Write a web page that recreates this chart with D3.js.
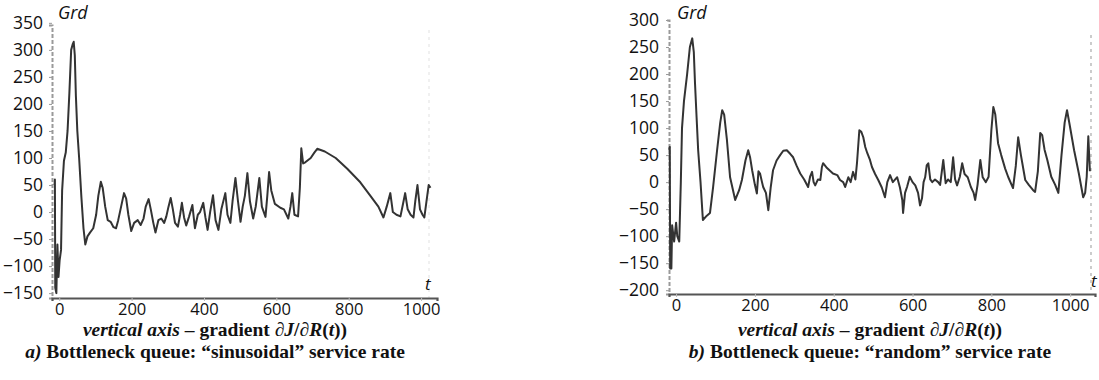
<!DOCTYPE html>
<html>
<head>
<meta charset="utf-8">
<script src="https://cdn.jsdelivr.net/npm/d3@7"></script>
<style>
  html, body { margin: 0; padding: 0; background: #fff; }
  svg { display: block; }
  .ylbl { font-family: "Open Sans", sans-serif; font-size: 17.5px; fill: #111; }
  .xlbl { font-family: "Open Sans", sans-serif; font-size: 16.5px; fill: #111; }
  .cap { font-family: "Liberation Serif", "Times New Roman", serif; font-size: 19.5px; font-weight: bold; fill: #111; }
</style>
</head>
<body>
<svg id="chart" width="1099" height="380"></svg>
<script>
// ---------- data: panel a) sinusoidal service rate ----------
const tA = [-13,-12,-11,-8,-5,-2,1,5,8,13,18,23,28,33,37,40,43,46,50,55,61,67,
  72,78,85,94,102,108,115,120,127,134,142,150,157,
  163,171,179,185,191,199,207,217,225,233,239,247,253,
  260,266,274,282,290,296,302,308,314,320,328,334,
  339,345,351,359,368,375,383,389,398,404,410,417,
  425,432,440,448,459,465,473,479,487,494,
  501,507,513,520,527,536,543,553,560,570,575,
  580,586,596,611,621,633,639,644,
  650,660,665,669,674,680,695,705,713,
  734,764,796,832,860,
  882,896,905,915,922,932,943,950,
  956,963,971,979,984,990,997,1004,1009,1015,1021,1026];
const gA = [50,60,-140,-150,-60,-120,-90,-70,40,95,110,150,220,300,310,315,290,215,150,100,
  30,-30,-60,-45,-38,-30,-5,30,56,45,10,-15,-18,-28,-30,-15,10,35,25,-5,
  -35,-20,-15,-24,-12,10,24,5,-20,-38,-15,-12,-20,-8,10,26,5,-20,-27,-5,
  17,-10,-25,-8,13,-30,-5,0,17,-10,-33,0,31,-15,-33,5,35,-5,-20,20,
  63,20,-18,10,30,72,20,-12,10,63,10,-9,30,74,40,15,8,5,-12,10,
  35,-5,-8,45,118,90,92,100,110,117,112,100,80,55,30,10,-10,10,35,0,
  -5,-8,15,35,5,-5,-10,20,50,5,-5,-10,20,50,45];

// ---------- data: panel b) random service rate ----------
const tB = [-18,-16,-15,-12,-10,-5,0,3,8,12,15,20,28,35,41,45,48,52,56,62,68,78,86,94,104,112,117,122,129,137,150,160,167,176,183,188,193,200,205,209,213,218,221,228,234,240,246,255,264,272,281,290,297,306,315,325,335,340,345,349,353,360,366,370,373,383,398,409,416,424,429,437,443,449,455,459,465,470,475,480,485,492,497,505,513,522,530,536,543,550,556,561,568,574,576,581,586,593,600,607,614,619,624,628,632,636,640,645,650,657,665,670,678,684,690,697,703,708,713,720,726,732,740,748,755,759,765,772,778,786,793,800,805,810,817,825,835,843,855,862,868,875,886,895,906,911,918,924,929,935,942,952,962,970,978,986,992,998,1010,1022,1033,1038,1042,1046,1050];
const gB = [60,65,-160,-160,-80,-110,-75,-100,-110,0,100,150,200,250,266,240,183,120,59,0,-70,-62,-57,-9,59,110,133,125,78,9,-33,-15,4,40,59,45,22,-5,-21,20,16,0,-9,-20,-52,-10,22,40,50,58,59,52,46,30,16,5,-9,10,19,0,-6,5,4,28,35,26,16,13,4,0,-9,9,0,19,5,35,96,93,83,65,54,41,28,15,4,-10,-28,0,13,0,5,9,-10,-33,-57,-20,-9,10,0,-6,-20,-43,-30,0,9,31,35,5,0,5,0,-5,41,-2,5,0,46,5,-6,10,35,15,9,-9,-20,-33,-5,41,9,0,10,96,139,125,72,50,25,9,-11,30,83,50,4,-5,-15,-18,20,91,87,60,41,10,-5,-20,50,110,133,109,59,16,-28,-20,10,85,20];

// ---------- tick labels ----------
const xTicks = [0, 200, 400, 600, 800, 1000];
const yTicksA = [-150, -100, -50, 0, 50, 100, 150, 200, 250, 300, 350];
const yTicksB = [-200, -150, -100, -50, 0, 50, 100, 150, 200, 250, 300];

const svg = d3.select("#chart");

function panel(cfg) {
  const g = svg.append("g");
  const x = d3.scaleLinear().domain(cfg.xDom).range(cfg.xRange);
  const y = d3.scaleLinear().domain(cfg.yDom).range(cfg.yRange);
  const x0 = cfg.xRange[0];
  const yb = cfg.yRange[0];

  // faint dotted right frame
  g.append("line").attr("x1", cfg.frameX).attr("x2", cfg.frameX)
    .attr("y1", cfg.frameTop).attr("y2", yb)
    .attr("stroke", cfg.frameColor).attr("stroke-width", 1.2)
    .attr("stroke-dasharray", "3,4");

  // y axis
  const ya = d3.axisLeft(y).tickValues(cfg.yTicks).tickSize(3).tickPadding(5).tickFormat(d3.format("d"));
  const yg = g.append("g").attr("transform", `translate(${x0},0)`).call(ya);
  yg.select(".domain").attr("stroke", "#9a9a9a").attr("stroke-width", 2).attr("stroke-dasharray", "4,2");
  yg.selectAll(".tick line").attr("stroke", "#999");
  yg.selectAll(".tick text").attr("class", "ylbl").attr("fill", "#111").attr("dx", cfg.yLblDx);

  // x axis
  const xa = d3.axisBottom(x).tickValues(xTicks).tickSize(3).tickPadding(2).tickFormat(d3.format("d"));
  const xg = g.append("g").attr("transform", `translate(0,${yb})`).call(xa);
  xg.select(".domain").attr("stroke", "#555").attr("stroke-width", 2.2);
  xg.selectAll(".tick line").attr("stroke", "#bbb");
  xg.selectAll(".tick text").attr("class", "xlbl").attr("fill", "#111");

  // curve
  const line = d3.line().x((d, i) => x(cfg.t[i])).y((d) => y(d));
  g.append("path").datum(cfg.v).attr("d", line)
    .attr("fill", "none").attr("stroke", "#333").attr("stroke-width", 2)
    .attr("stroke-linejoin", "round");

  // Grd label
  g.append("text").attr("x", cfg.grdX).attr("y", 19)
    .attr("font-family", "Open Sans, sans-serif").attr("font-style", "italic")
    .attr("font-size", 18).attr("fill", "#111").text("Grd");
  // t label
  g.append("text").attr("x", cfg.tX).attr("y", cfg.tY)
    .attr("font-family", "Open Sans, sans-serif").attr("font-style", "italic")
    .attr("font-size", 17).attr("fill", "#111").text("t");

  // captions
  const c1 = g.append("text").attr("class", "cap").attr("x", cfg.capX).attr("y", 336).attr("text-anchor", "middle");
  c1.append("tspan").attr("font-style", "italic").text("vertical axis");
  c1.append("tspan").text(cfg.dashTxt + "gradient \u2202");
  c1.append("tspan").attr("font-style", "italic").text("J");
  c1.append("tspan").text("/\u2202");
  c1.append("tspan").attr("font-style", "italic").text("R");
  c1.append("tspan").text("(");
  c1.append("tspan").attr("font-style", "italic").text("t");
  c1.append("tspan").text("))");

  const c2 = g.append("text").attr("class", "cap").attr("x", cfg.capX).attr("y", 358).attr("text-anchor", "middle");
  c2.append("tspan").attr("font-style", "italic").text(cfg.letter);
  c2.append("tspan").text(" Bottleneck queue: \u201C" + cfg.kind + "\u201D service rate");
}

panel({
  t: tA, v: gA, xDom: [-20, 1044], xRange: [52, 437], yDom: [-159, 346], yRange: [298, 25],
  yTicks: yTicksA, frameX: 429, frameTop: 30, frameColor: "#e6e6e6", yLblDx: -1,
  grdX: 58, tX: 425, tY: 290, capX: 215, letter: "a)", kind: "sinusoidal", dashTxt: " \u2013  "
});

panel({
  t: tB, v: gB, xDom: [-18, 1063], xRange: [669, 1095], yDom: [-207, 300], yRange: [294, 20],
  yTicks: yTicksB, frameX: 1091, frameTop: 35, frameColor: "#aaa", yLblDx: -2,
  grdX: 677, tX: 1091, tY: 287, capX: 870, letter: "b)", kind: "random", dashTxt: " \u2013 "
});
</script>
</body>
</html>
